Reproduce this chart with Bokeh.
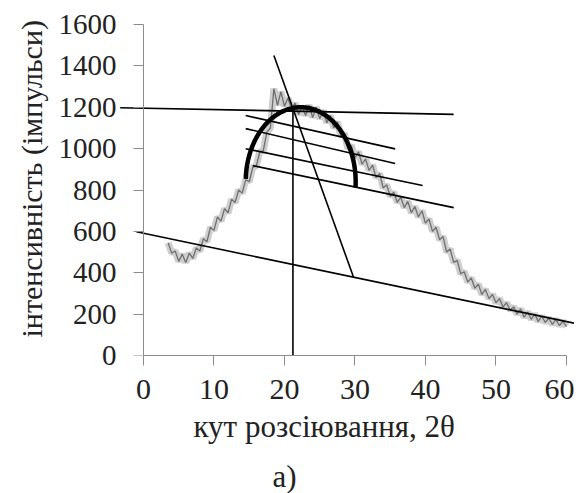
import numpy as np
from bokeh.plotting import figure
from bokeh.models import Range1d, Title, FixedTicker, LinearAxis
from bokeh.embed import file_html
from bokeh.resources import INLINE

# ---- data ----
angle_start, angle_step = 3.5, 0.5
intensity = [545, 495, 505, 455, 490, 450, 495, 470, 520, 505,
             565, 550, 620, 605, 670, 650, 710, 690, 755, 740,
             800, 785, 850, 840, 910, 915, 985, 990, 1080, 1100,
             1290, 1210, 1275, 1205, 1245, 1190, 1220, 1165, 1205, 1160,
             1210, 1150, 1200, 1145, 1185, 1125, 1160, 1100, 1130, 1060,
             1075, 1000, 1015, 955, 985, 925, 950, 895, 920, 860,
             880, 810, 825, 770, 790, 740, 765, 715, 745, 690,
             720, 670, 700, 640, 660, 600, 620, 560, 575, 500,
             515, 450, 460, 395, 405, 355, 375, 325, 345, 295,
             320, 275, 295, 255, 275, 235, 255, 220, 235, 200,
             225, 185, 210, 175, 200, 165, 190, 160, 180, 150,
             175, 145, 165, 140]
angle = [angle_start + angle_step * i for i in range(len(intensity))]

x_ticks = [0, 10, 20, 30, 40, 50, 60]
y_ticks = [0, 200, 400, 600, 800, 1000, 1200, 1400, 1600]

# construction lines (x0, y0, x1, y1) in data units
background_line = (-1.0, 598, 61.1, 156)
vertical_line = (21.2, 0, 21.2, 1185)
steep_line = (18.5, 1450, 29.8, 378)
peak_line = (-3.3, 1198, 44.0, 1166)
chords = [(14.5, 1160, 35.7, 999),
          (14.5, 1097, 35.7, 928),
          (14.5, 1000, 39.6, 822),
          (15.5, 918, 44.0, 715)]
# semi-ellipse fitted over the peak
arc_cx, arc_cy, arc_rx, arc_ry = 22.3, 840, 7.8, 360
arc_t0, arc_t1 = -0.08, np.pi - 0.04

FONT = "Liberation Serif"
TXT = "#222222"
AXC = "#8c8c8c"

p = figure(frame_width=455, frame_height=339,
           x_range=Range1d(-3.4, 61.14), y_range=Range1d(0, 1639),
           output_backend="svg", toolbar_location=None,
           x_axis_location=None, y_axis_location=None,
           min_border_left=119, min_border_top=16, min_border_right=0,
           min_border_bottom=0, background_fill_color="white",
           border_fill_color="white")
p.outline_line_color = None
p.xgrid.visible = False
p.ygrid.visible = False

# y axis line + ticks drawn at x = 0
yrule = LinearAxis(fixed_location=0, bounds=(0, 1600),
                   ticker=FixedTicker(ticks=y_ticks))
yrule.axis_line_color = AXC
yrule.major_tick_line_color = AXC
yrule.minor_tick_line_color = None
yrule.major_tick_in = 0
yrule.major_tick_out = 10
yrule.major_label_text_alpha = 0
p.add_layout(yrule, "left")

# y tick labels (in the left panel)
ylab = LinearAxis(bounds=(0, 1600), ticker=FixedTicker(ticks=y_ticks))
ylab.axis_line_color = None
ylab.major_tick_line_color = None
ylab.minor_tick_line_color = None
ylab.major_tick_in = 0
ylab.major_tick_out = 0
ylab.major_label_standoff = 3
ylab.major_label_text_font = FONT
ylab.major_label_text_font_size = "29px"
ylab.major_label_text_color = TXT
p.add_layout(ylab, "left")

p.add_layout(Title(text="інтенсивність (імпульси)", align="left", offset=18,
                   text_font=FONT, text_font_size="30px",
                   text_font_style="normal", text_color=TXT, standoff=16), "left")

xaxis = LinearAxis(bounds=(0, 60), ticker=FixedTicker(ticks=x_ticks))
xaxis.axis_line_color = AXC
xaxis.major_tick_line_color = AXC
xaxis.minor_tick_line_color = None
xaxis.major_tick_in = 0
xaxis.major_tick_out = 10
xaxis.major_label_standoff = 14
xaxis.major_label_text_font = FONT
xaxis.major_label_text_font_size = "30px"
xaxis.major_label_text_color = TXT
p.add_layout(xaxis, "below")

p.add_layout(Title(text="кут розсіювання, 2θ", align="left", offset=74,
                   text_font=FONT, text_font_size="31px",
                   text_font_style="normal", text_color=TXT, standoff=10), "below")
p.add_layout(Title(text="а)", align="left", offset=153,
                   text_font=FONT, text_font_size="31px",
                   text_font_style="normal", text_color=TXT, standoff=16), "below")

# diffraction curve: soft band + jagged line
p.line(angle, intensity, line_color="#a8a8a8", line_width=7, line_alpha=0.55)
p.line(angle, intensity, line_color="#6f6f6f", line_width=1.3)

segs = [background_line, vertical_line, steep_line, peak_line] + chords
p.segment(x0=[s[0] for s in segs], y0=[s[1] for s in segs],
          x1=[s[2] for s in segs], y1=[s[3] for s in segs],
          line_color="black", line_width=1.6)

t = np.linspace(arc_t0, arc_t1, 80)
p.line(arc_cx + arc_rx * np.cos(t), arc_cy + arc_ry * np.sin(t),
       line_color="black", line_width=4.5)

open("out.html", "w").write(file_html(p, INLINE))
